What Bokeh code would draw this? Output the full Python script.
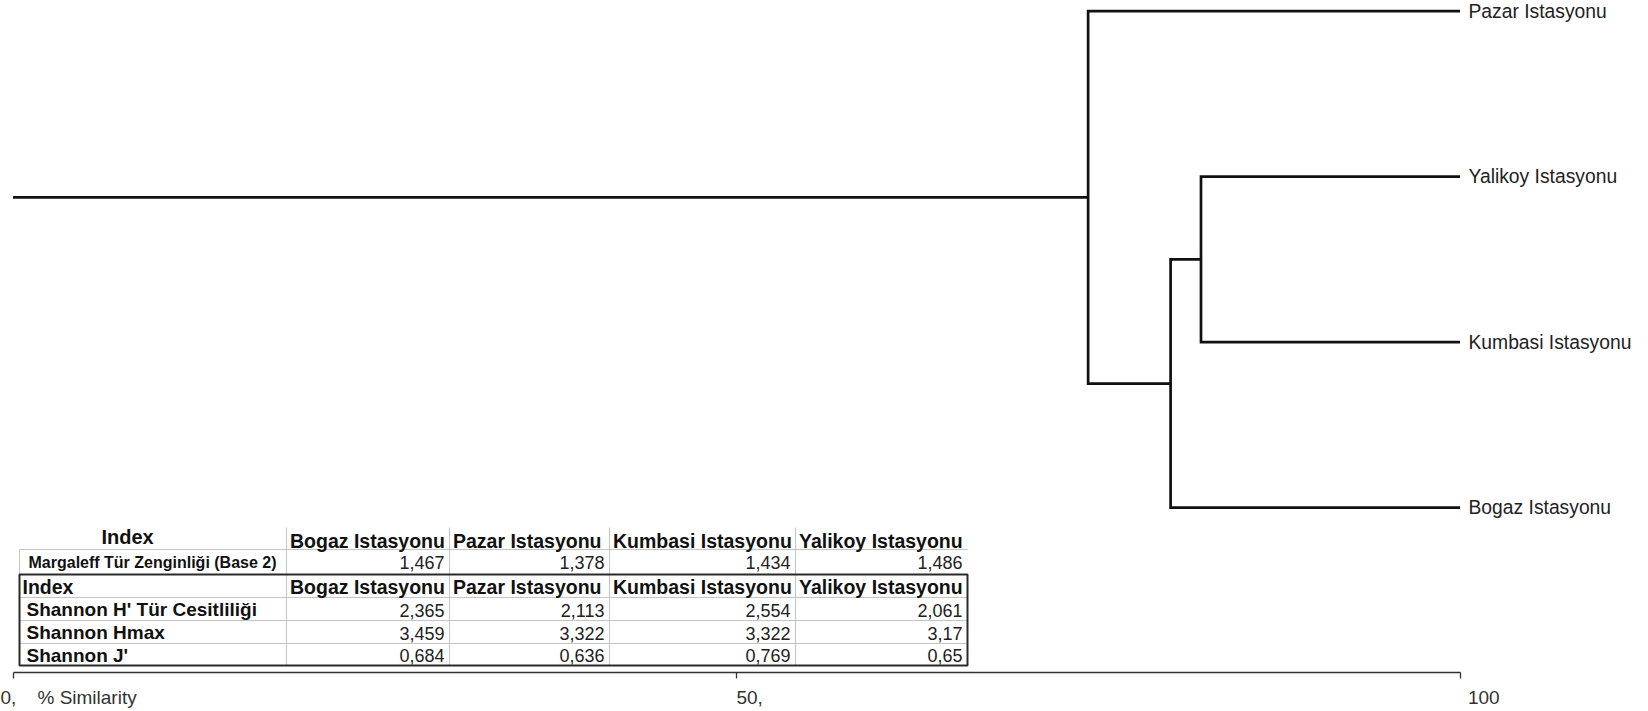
from bokeh.plotting import figure
from bokeh.models import Range1d, FixedTicker, AllLabels
from bokeh.core.properties import value
from bokeh.embed import file_html
from bokeh.resources import INLINE

# ---------------- data ----------------
leaf_names = ["Pazar Istasyonu", "Yalikoy Istasyonu", "Kumbasi Istasyonu", "Bogaz Istasyonu"]
merge_left = ["Yalikoy Istasyonu", "node0", "Pazar Istasyonu"]
merge_right = ["Kumbasi Istasyonu", "Bogaz Istasyonu", "node1"]
merge_similarity = [82.1, 80.0, 74.3]
axis_ticks = [0, 50, 100]
axis_tick_labels = ["0,", "50,", "100"]
axis_title = "% Similarity"

stations = ["Bogaz Istasyonu", "Pazar Istasyonu", "Kumbasi Istasyonu", "Yalikoy Istasyonu"]
index_header = "Index"
margalef_label = "Margaleff Tür Zenginliği (Base 2)"
margalef_values = [1.467, 1.378, 1.434, 1.486]
shannon_labels = ["Shannon H' Tür Cesitliliği", "Shannon Hmax", "Shannon J'"]
shannon_h = [2.365, 2.113, 2.554, 2.061]
shannon_hmax = [3.459, 3.322, 3.322, 3.17]
shannon_j = [0.684, 0.636, 0.769, 0.65]

# ---------------- layout (picture pixels) ----------------
W, H = 1648, 711
X0_PX, X_PER = 12.5, 14.47      # x of 0 %, px per %
Y0_PX, Y_PER = 10.7, 165.5      # y of first leaf, px per leaf step
FRAME_BOTTOM = 672


def dx(px):
    return (px - X0_PX) / X_PER


def dy(py):
    return (py - Y0_PX) / Y_PER


p = figure(width=W, height=H,
           x_range=Range1d(dx(0), dx(W)),
           y_range=Range1d(dy(FRAME_BOTTOM), dy(0)),
           output_backend="svg", toolbar_location=None,
           min_border_left=0, min_border_right=0, min_border_top=0,
           min_border_bottom=H - FRAME_BOTTOM,
           y_axis_location=None, background_fill_color="white",
           border_fill_color="white")
p.outline_line_color = None
p.xgrid.visible = False
p.ygrid.visible = False

# ---------------- dendrogram ----------------
pos = {name: (100.0, float(i)) for i, name in enumerate(leaf_names)}
xs, ys = [], []
for k, (a, b, s) in enumerate(zip(merge_left, merge_right, merge_similarity)):
    ax_, ay_ = pos[a]
    bx_, by_ = pos[b]
    xs.append([ax_, s, s, bx_])
    ys.append([ay_, ay_, by_, by_])
    pos["node%d" % k] = (s, (ay_ + by_) / 2.0)
root_x, root_y = pos["node%d" % (len(merge_similarity) - 1)]
xs.append([axis_ticks[0], root_x])
ys.append([root_y, root_y])
p.multi_line(xs, ys, line_color="#111111", line_width=2.7, line_join="miter")

p.text(x=[100.0] * len(leaf_names), y=list(range(len(leaf_names))), text=leaf_names,
       x_offset=8.5, text_align="left", text_baseline="middle",
       text_font=value("Liberation Sans"), text_font_size="19.3px", text_color="#222222")

# ---------------- axis ----------------
NB = "\u00a0"
ax = p.xaxis[0]
ax.ticker = FixedTicker(ticks=axis_ticks)
ax.bounds = (axis_ticks[0], axis_ticks[-1])
ax.major_label_policy = AllLabels()
ax.major_label_overrides = {
    axis_ticks[0]: axis_tick_labels[0] + NB * 4 + axis_title,
    axis_ticks[1]: NB * 5 + axis_tick_labels[1],
    axis_ticks[2]: NB * 9 + axis_tick_labels[2],
}
ax.axis_line_color = "#333333"
ax.axis_line_width = 1.3
ax.major_tick_line_color = "#333333"
ax.major_tick_line_width = 1.3
ax.major_tick_in = 0
ax.major_tick_out = 6
ax.minor_tick_line_color = None
ax.major_label_standoff = 8
ax.major_label_text_font = "Liberation Sans"
ax.major_label_text_font_size = "19px"
ax.major_label_text_color = "#333333"

# ---------------- table ----------------
col_edges = [19, 286, 449, 609, 795, 967]
up_top, up_mid, box_top = 527, 549, 574
box_rows = [574, 597, 620, 643, 665]
grid_col = "#c4c4c4"

sx0 = [dx(col_edges[0])]
sy0 = [dy(up_mid)]
sx1 = [dx(col_edges[-1])]
sy1 = [dy(up_mid)]
for c in col_edges[1:-1]:
    sx0.append(dx(c)); sy0.append(dy(up_top)); sx1.append(dx(c)); sy1.append(dy(box_top))
sx0.append(dx(col_edges[0])); sy0.append(dy(up_mid)); sx1.append(dx(col_edges[0])); sy1.append(dy(box_top))
for r in box_rows[1:-1]:
    sx0.append(dx(col_edges[0])); sy0.append(dy(r)); sx1.append(dx(col_edges[-1])); sy1.append(dy(r))
for c in col_edges[1:-1]:
    sx0.append(dx(c)); sy0.append(dy(box_rows[0])); sx1.append(dx(c)); sy1.append(dy(box_rows[-1]))
p.segment(sx0, sy0, sx1, sy1, line_color=grid_col, line_width=1)

p.quad(left=[dx(col_edges[0])], right=[dx(col_edges[-1])],
       top=[dy(box_rows[0])], bottom=[dy(box_rows[-1])],
       fill_color=None, line_color="#2a2a2a", line_width=2)

HFONT = value("Liberation Sans")
p.text(x=[dx(101)], y=[dy(536)], text=[index_header], text_align="left", text_baseline="middle",
       text_font=HFONT, text_font_style="bold", text_font_size="20px", text_color="#111111")
p.text(x=[dx(c + 3.5) for c in col_edges[1:-1]], y=[dy(540)] * len(stations), text=stations,
       text_align="left", text_baseline="middle", text_font=HFONT, text_font_style="bold",
       text_font_size="19.5px", text_color="#111111")
p.text(x=[dx(28)], y=[dy(561.5)], text=[margalef_label], text_align="left", text_baseline="middle",
       text_font=HFONT, text_font_style="bold", text_font_size="16px", text_color="#111111")


def fmt(v):
    return ("%g" % v).replace(".", ",")


val_x = [dx(c - 5) for c in col_edges[2:]]
p.text(x=val_x, y=[dy(561.5)] * 4, text=[fmt(v) for v in margalef_values],
       text_align="right", text_baseline="middle", text_font=HFONT,
       text_font_size="18px", text_color="#222222")
p.text(x=[dx(22)], y=[dy(586)], text=[index_header], text_align="left", text_baseline="middle",
       text_font=HFONT, text_font_style="bold", text_font_size="19.5px", text_color="#111111")
p.text(x=[dx(c + 3.5) for c in col_edges[1:-1]], y=[dy(586)] * len(stations), text=stations,
       text_align="left", text_baseline="middle", text_font=HFONT, text_font_style="bold",
       text_font_size="19.5px", text_color="#111111")
row_centers = [(box_rows[i] + box_rows[i + 1]) / 2.0 + 0.5 for i in range(1, 4)]
p.text(x=[dx(26)] * 3, y=[dy(r) for r in row_centers], text=shannon_labels,
       text_align="left", text_baseline="middle", text_font=HFONT, text_font_style="bold",
       text_font_size="19px", text_color="#111111")
for vals, rc in zip([shannon_h, shannon_hmax, shannon_j], row_centers):
    p.text(x=val_x, y=[dy(rc + 0.5)] * 4, text=[fmt(v) for v in vals],
           text_align="right", text_baseline="middle", text_font=HFONT,
           text_font_size="18px", text_color="#222222")

open("out.html", "w").write(file_html(p, INLINE))
